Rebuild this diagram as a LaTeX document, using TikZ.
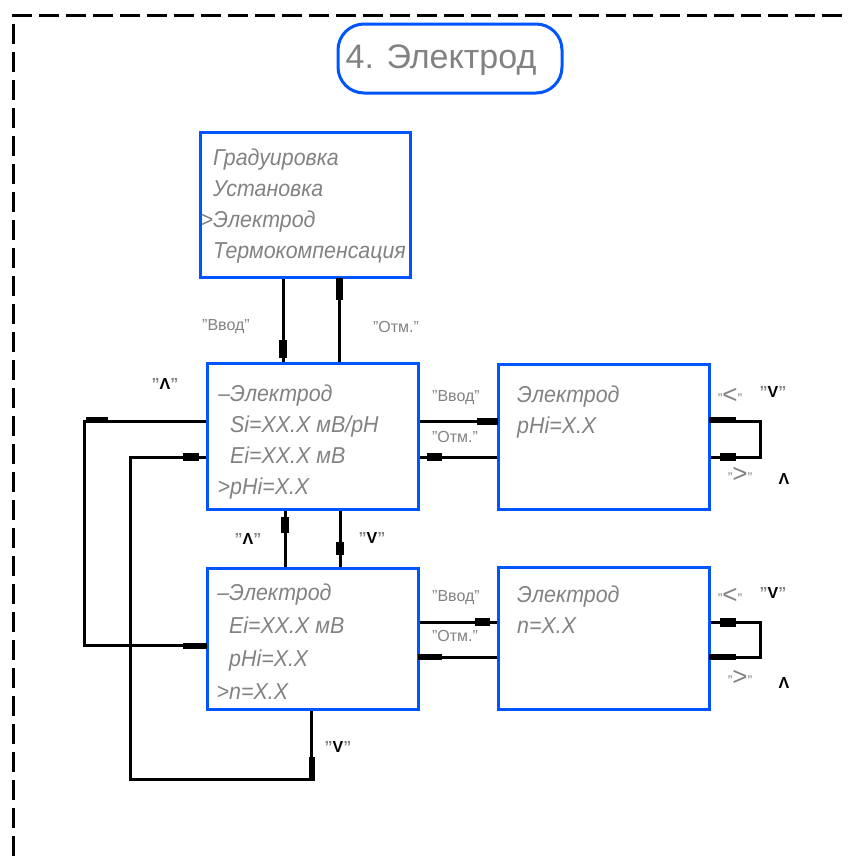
\documentclass[tikz,border=0pt]{standalone}
\usepackage{fontspec}
\setmainfont{Liberation Sans}
\newfontfamily\nf{Liberation Sans}[FakeStretch=0.93]
\definecolor{bl}{RGB}{0,85,255}
\definecolor{tx}{RGB}{130,130,130}
\newcommand\dq{\symbol{34}}
\newcommand\qq[1]{\textcolor{tx}{\dq}#1\textcolor{tx}{\dq}}
\tikzset{
  box/.style={draw=bl, line width=3pt, inner sep=0pt},
  con/.style={draw=black, line width=3pt},
  mk/.style={draw=black, line width=7pt},
  btxt/.style={anchor=base west, inner sep=0pt, text=tx, font=\nf\fontsize{23}{31}\selectfont\itshape},
  lab/.style={inner sep=0pt, text=tx, font=\fontsize{16}{16}\selectfont},
  sym/.style={inner sep=0pt, text=black, font=\fontsize{16}{16}\selectfont\bfseries},
  big/.style={inner sep=0pt, text=tx, font=\fontsize{26}{26}\selectfont},
}
\begin{document}
\begin{tikzpicture}[x=1pt,y=-1pt]
\useasboundingbox (0,0) rectangle (849,860);
% frame
\coordinate (F1) at (12,15); \coordinate (F2) at (849,15);
\coordinate (F3) at (13,24); \coordinate (F4) at (13,860);
\draw[line width=3pt, dash pattern=on 20pt off 7pt] (F1) -- (F2);
\draw[line width=3pt, dash pattern=on 20pt off 8pt] (F3) -- (F4);
% title
\node[box, rounded corners=26pt, minimum width=224pt, minimum height=69pt] (T) at (450,58.5) {};
\node[inner sep=0pt, text=tx, font=\fontsize{34}{34}\selectfont] (Tt) at (441,60) {4. Электрод};
% boxes
\node[box, minimum width=210pt, minimum height=145pt] (A) at (305,204.5) {};
\node[box, minimum width=211pt, minimum height=146pt] (B) at (312.5,436) {};
\node[box, minimum width=211pt, minimum height=145pt] (C) at (603.5,436.5) {};
\node[box, minimum width=211pt, minimum height=141pt] (D) at (312.5,638.5) {};
\node[box, minimum width=211pt, minimum height=142pt] (E) at (603.5,638) {};
% box texts
\node[btxt] (At) at (213,165) {\begin{tabular}[t]{@{}l@{}}Градуировка\\Установка\\\llap{>}Электрод\\Термокомпенсация\end{tabular}};
\node[btxt] (Bt) at (230,401) {\begin{tabular}[t]{@{}l@{}}\llap{–}Электрод\\Si=XX.X мВ/pH\\Ei=XX.X мВ\\\llap{>}pHi=X.X\end{tabular}};
\node[btxt, font=\nf\fontsize{23}{33}\selectfont\itshape] (Dt) at (229,600) {\begin{tabular}[t]{@{}l@{}}\llap{–}Электрод\\Ei=XX.X мВ\\pHi=X.X\\\llap{>}n=X.X\end{tabular}};
\node[btxt] (Ct) at (517,402) {\begin{tabular}[t]{@{}l@{}}Электрод\\pHi=X.X\end{tabular}};
\node[btxt] (Et) at (517,602) {\begin{tabular}[t]{@{}l@{}}Электрод\\n=X.X\end{tabular}};
% helper coordinates
\coordinate (xa) at (283,0); \coordinate (xb) at (339,0);
\coordinate (xc) at (285,0); \coordinate (xe) at (340,0);
\coordinate (y1) at (0,421); \coordinate (y2) at (0,457);
\coordinate (y4) at (0,622); \coordinate (y5) at (0,657);
\coordinate (y3) at (0,645); \coordinate (yb) at (0,779);
\coordinate (cr) at (760,0);
\coordinate (xl1) at (84,0); \coordinate (xl2) at (130,0); \coordinate (xd) at (311,0);
% connectors
\draw[con] (A.south -| xa) -- (B.north -| xa);
\draw[con] (A.south -| xb) -- (B.north -| xb);
\draw[con] (B.south -| xc) -- (D.north -| xc);
\draw[con] (B.south -| xe) -- (D.north -| xe);
\draw[con] (B.east |- y1) -- (C.west |- y1);
\draw[con] (B.east |- y2) -- (C.west |- y2);
\draw[con] (D.east |- y4) -- (E.west |- y4);
\draw[con] (D.east |- y5) -- (E.west |- y5);
\draw[con] (C.east |- y1) -| (cr |- y2) -- (C.east |- y2);
\draw[con] (E.east |- y4) -| (cr |- y5) -- (E.east |- y5);
\draw[con] (B.west |- y1) -| (xl1 |- y3) -- (D.west |- y3);
\draw[con] (B.west |- y2) -| (xl2 |- yb) -| (D.south -| xd);
% direction markers
\draw[mk, line width=8pt] (283,340) -- (283,358);
\draw[mk] (339,278) -- (339,300);
\draw[mk] (477,421) -- (498,421);
\draw[mk, line width=8pt] (427,457) -- (442,457);
\draw[mk, line width=6pt] (709,420) -- (736,420);
\draw[mk, line width=8pt] (720,457) -- (736,457);
\draw[mk, line width=8pt] (285,517) -- (285,533);
\draw[mk, line width=8pt] (340,542) -- (340,555);
\draw[mk, line width=8pt] (475,622) -- (490,622);
\draw[mk, line width=6pt] (418,657) -- (442,657);
\draw[mk, line width=9pt] (720,622) -- (736,622);
\draw[mk, line width=6pt] (709,657) -- (736,657);
\draw[mk, line width=5pt] (86,419) -- (108,419);
\draw[mk, line width=6pt] (183,646) -- (207,646);
\draw[mk, line width=8pt] (183,457) -- (199,457);
\draw[mk, line width=6pt] (312,757) -- (312,781);
% labels
\node[lab] (L1) at (226,327) {\dq Ввод\dq};
\node[lab] (L2) at (396,327) {\dq Отм.\dq};
\node[lab] (L3) at (456,398) {\dq Ввод\dq};
\node[lab] (L4) at (455,437) {\dq Отм.\dq};
\node[lab] (L5) at (456,598) {\dq Ввод\dq};
\node[lab] (L6) at (455,636) {\dq Отм.\dq};
\node[sym] (S1) at (165,384) {\qq{Λ}};
\node[sym] (S2) at (248,539) {\qq{Λ}};
\node[sym] (S3) at (372,538) {\qq{V}};
\node[sym] (S4) at (338,747) {\qq{V}};
\node[big] (G1) at (730,396) {{\fontsize{14}{14}\selectfont\dq}<{\fontsize{14}{14}\selectfont\dq}};
\node[sym] (S5) at (773,392) {\qq{V}};
\node[big] (G2) at (740,475) {{\fontsize{14}{14}\selectfont\dq}>{\fontsize{14}{14}\selectfont\dq}};
\node[sym] (S6) at (784,479) {Λ};
\node[big] (G3) at (730,596) {{\fontsize{14}{14}\selectfont\dq}<{\fontsize{14}{14}\selectfont\dq}};
\node[sym] (S7) at (773,593) {\qq{V}};
\node[big] (G4) at (740,678) {{\fontsize{14}{14}\selectfont\dq}>{\fontsize{14}{14}\selectfont\dq}};
\node[sym] (S8) at (784,683) {Λ};
\end{tikzpicture}
\end{document}
